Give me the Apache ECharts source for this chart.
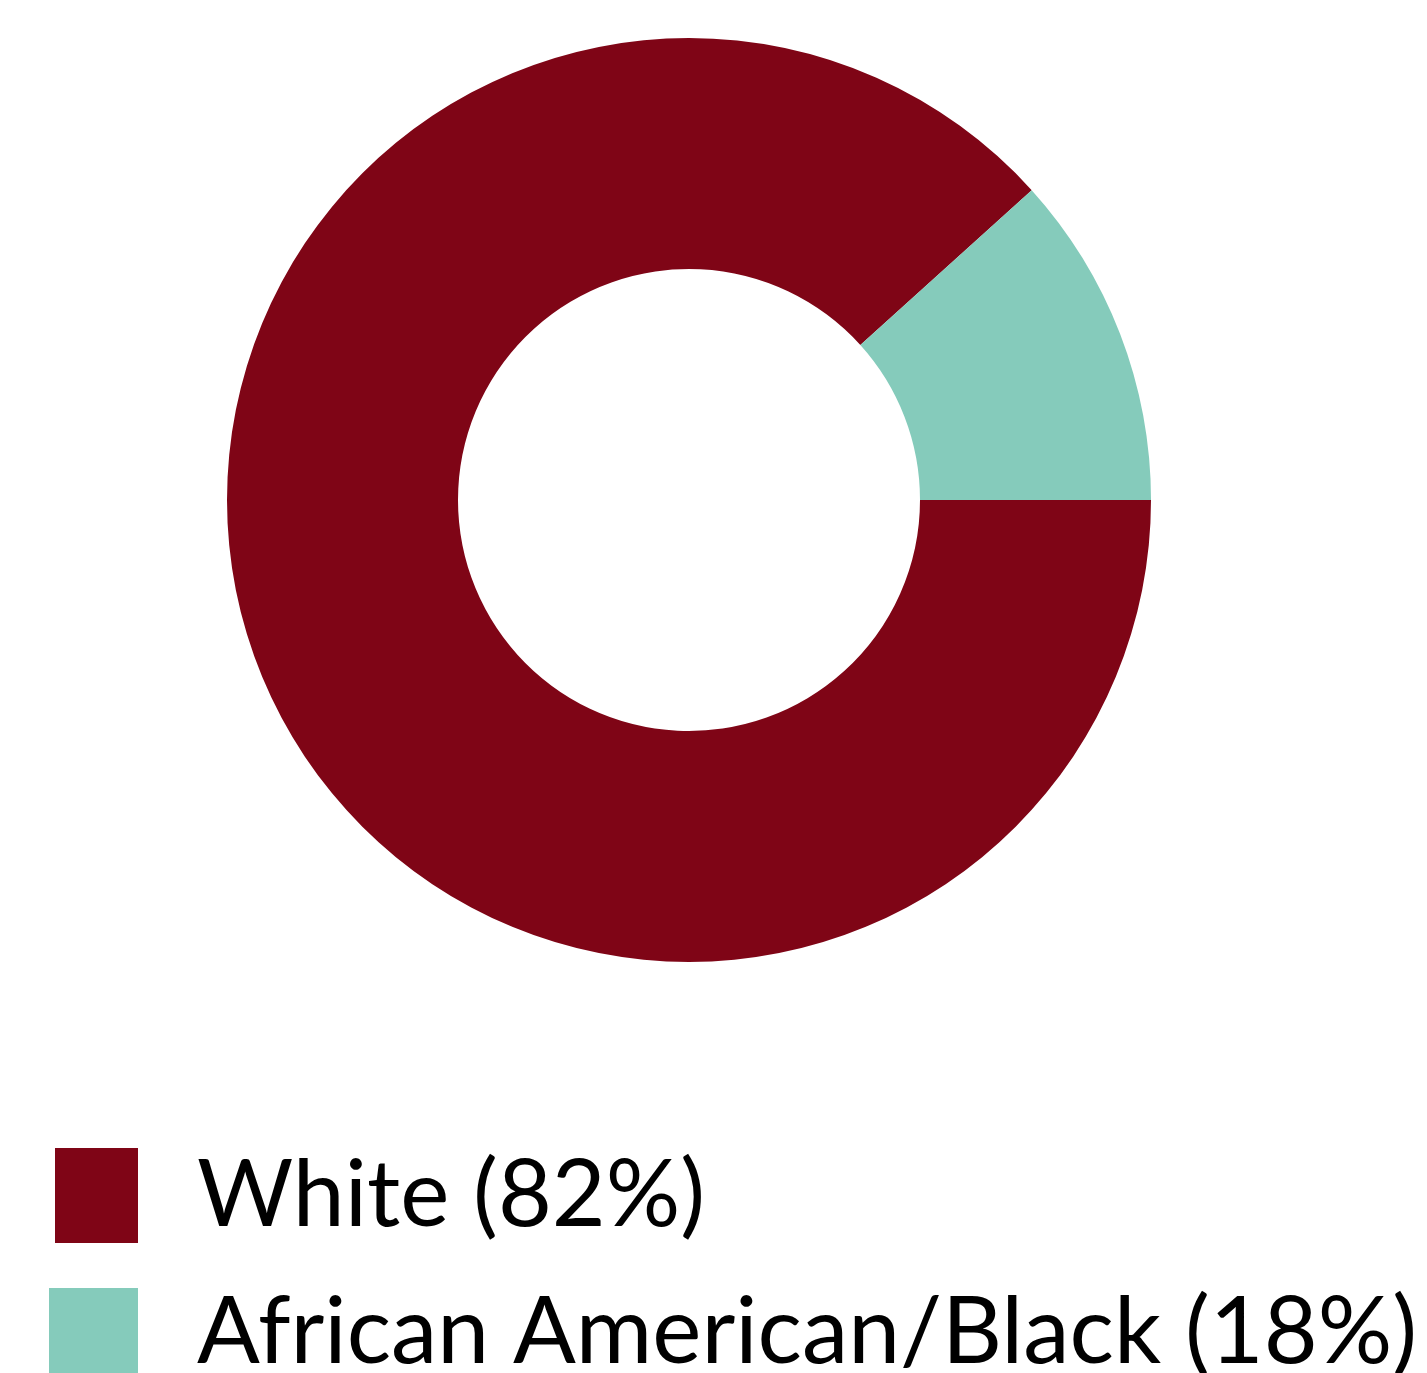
<!DOCTYPE html>
<html>
<head>
<meta charset="utf-8">
<script src="https://cdn.jsdelivr.net/npm/echarts@6/dist/echarts.min.js"></script>
<style>
html,body{margin:0;padding:0;background:#fff;}
#chart{width:1427px;height:1373px;}
</style>
</head>
<body>
<div id="chart"></div>
<script>
// Category labels as printed in the legend
const categories = ['White (82%)', 'African American/Black (18%)'];
// Slice sizes as drawn in the picture (teal arc spans ~42 degrees)
const sliceValues = [88.3, 11.7];
const colors = ['#7F0516', '#85CBBB'];

const chart = echarts.init(document.getElementById('chart'), null, {renderer: 'canvas'});
const data = categories.map((c, i) => ({name: c, value: sliceValues[i], itemStyle: {color: colors[i]}}));

function legendText(padBottom) {
  return {
    fontFamily: 'Lato',
    fontSize: 93,
    color: '#000',
    padding: [0, 0, padBottom, 54]
  };
}

chart.setOption({
  animation: false,
  backgroundColor: '#fff',
  legend: [
    {
      data: [categories[0]],
      orient: 'vertical',
      left: 55,
      top: 1148,
      padding: 0,
      itemWidth: 83,
      itemHeight: 95,
      icon: 'rect',
      selectedMode: false,
      textStyle: legendText(14)
    },
    {
      data: [categories[1]],
      orient: 'vertical',
      left: 49,
      top: 1286,
      padding: 0,
      itemWidth: 89,
      itemHeight: 89,
      icon: 'rect',
      selectedMode: false,
      textStyle: legendText(8)
    }
  ],
  series: [{
    type: 'pie',
    center: [689, 500],
    radius: [231, 462],
    startAngle: 0,
    clockwise: true,
    label: {show: false},
    labelLine: {show: false},
    itemStyle: {borderWidth: 0},
    emphasis: {disabled: true},
    data: data
  }]
});
</script>
</body>
</html>
